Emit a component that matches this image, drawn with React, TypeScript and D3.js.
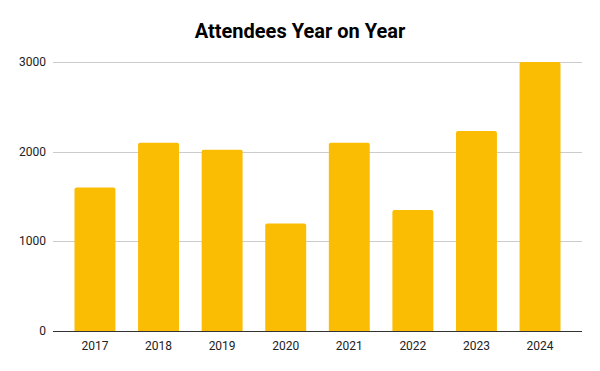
import React from 'react'
import * as d3 from 'd3'

// chart values
const years = ['2017', '2018', '2019', '2020', '2021', '2022', '2023', '2024']
const attendees = [1600, 2100, 2020, 1200, 2100, 1350, 2230, 3000]
const yTicks = [0, 1000, 2000, 3000]

const width = 600
const height = 371
const margin = { top: 62, right: 18, bottom: 40, left: 53 }

export default function App() {
  const xScale = d3.scaleBand<string>()
    .domain(years)
    .range([margin.left, width - margin.right])
    .paddingInner(0.356)
    .paddingOuter(0.338)

  const yScale = d3.scaleLinear()
    .domain([0, 3000])
    .range([height - margin.bottom, margin.top])

  const font = 'Roboto, sans-serif'

  return (
    <div style={{ position: 'absolute', left: 0, top: 0 }}>
      <svg width={width} height={height} style={{ display: 'block', background: '#fff' }}>
        <text x={300} y={38} textAnchor="middle" fontFamily={font} fontWeight="bold" fontSize={20} fill="#000">
          Attendees Year on Year
        </text>

        {/* grid lines */}
        <g>
          {yTicks.filter((t) => t !== 0).map((t) => (
            <line
              key={t}
              x1={margin.left}
              x2={width - margin.right}
              y1={Math.round(yScale(t)) + 0.5}
              y2={Math.round(yScale(t)) + 0.5}
              stroke="#cccccc"
              strokeWidth={1}
            />
          ))}
        </g>

        {/* y labels */}
        <g>
          {yTicks.map((t) => (
            <text
              key={t}
              x={margin.left - 7}
              y={yScale(t) + 4}
              textAnchor="end"
              fontFamily={font}
              fontSize={12}
              fill="#222"
            >
              {t}
            </text>
          ))}
        </g>

        {/* bars */}
        <g>
          {attendees.map((v, i) => {
            const x = xScale(years[i]) as number
            const y = yScale(v)
            const w = xScale.bandwidth()
            const h = yScale(0) - y
            const r = 2
            const path = `M${x},${y + h} V${y + r} Q${x},${y} ${x + r},${y} H${x + w - r} Q${x + w},${y} ${x + w},${y + r} V${y + h} Z`
            return <path key={years[i]} d={path} fill="#fbbc04" />
          })}
        </g>

        {/* baseline */}
        <line
          x1={margin.left}
          x2={width - margin.right}
          y1={Math.round(yScale(0)) + 0.5}
          y2={Math.round(yScale(0)) + 0.5}
          stroke="#333333"
          strokeWidth={1}
        />

        {/* x labels */}
        <g>
          {years.map((yr) => (
            <text
              key={yr}
              x={(xScale(yr) as number) + xScale.bandwidth() / 2}
              y={350}
              textAnchor="middle"
              fontFamily={font}
              fontSize={12}
              fill="#222"
            >
              {yr}
            </text>
          ))}
        </g>
      </svg>
    </div>
  )
}
